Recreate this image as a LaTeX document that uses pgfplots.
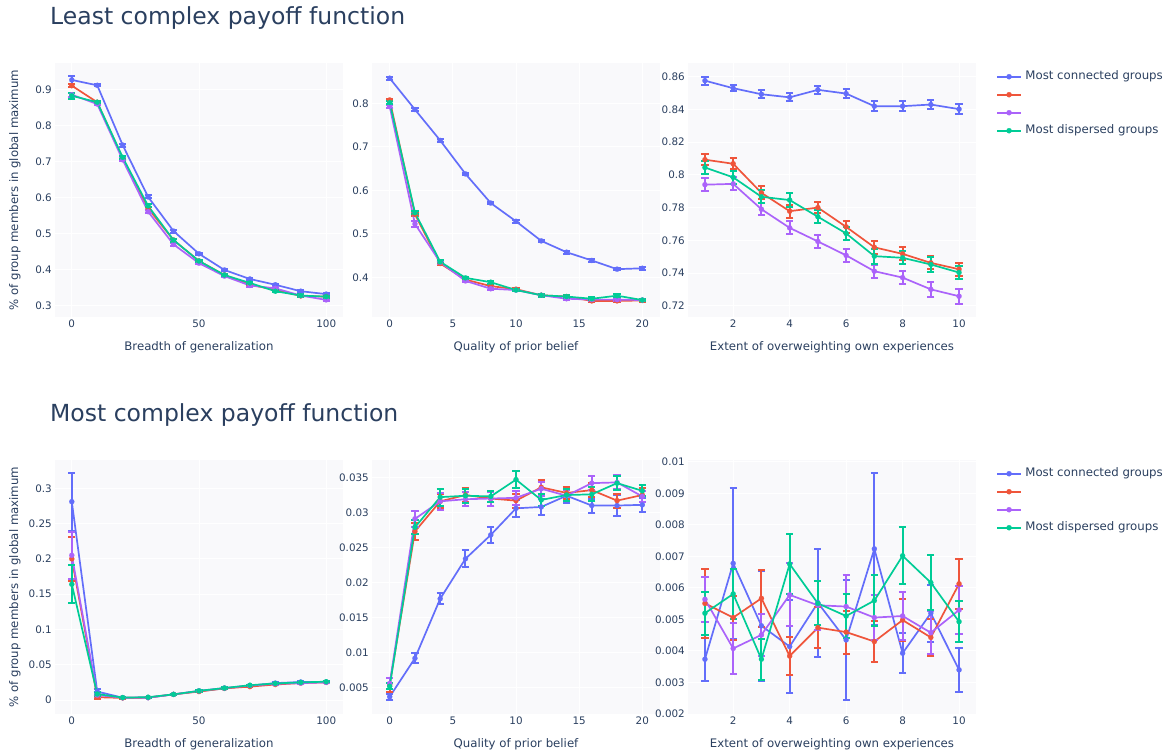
\documentclass[border=0pt]{standalone}
\usepackage{pgfplots}
\pgfplotsset{compat=1.18}
\usepackage{pgfplotstable}
\usepackage{fontspec}
\setmainfont{DejaVu Sans}
\definecolor{cb}{HTML}{636EFA}
\definecolor{cr}{HTML}{EF553B}
\definecolor{cp}{HTML}{AB63FA}
\definecolor{cg}{HTML}{00CC96}
\definecolor{txt}{HTML}{2A3F5F}
\definecolor{plotbg}{HTML}{F9F9FB}

% top-left: breadth of generalization (least complex)
\pgfplotstableread{
x b be r re p pe g ge
0 0.928 0.010 0.912 0.005 0.887 0.006 0.884 0.009
10 0.913 0.003 0.866 0.003 0.861 0.003 0.866 0.003
20 0.747 0.004 0.710 0.004 0.706 0.004 0.713 0.004
30 0.603 0.004 0.571 0.004 0.562 0.005 0.578 0.004
40 0.508 0.004 0.483 0.004 0.471 0.004 0.483 0.004
50 0.445 0.003 0.425 0.003 0.419 0.003 0.425 0.003
60 0.400 0.003 0.386 0.003 0.383 0.003 0.386 0.003
70 0.375 0.003 0.359 0.003 0.357 0.003 0.364 0.003
80 0.359 0.003 0.345 0.003 0.349 0.003 0.341 0.003
90 0.341 0.003 0.328 0.003 0.329 0.003 0.329 0.003
100 0.333 0.003 0.326 0.003 0.317 0.003 0.326 0.003
}\tA
% top-middle: quality of prior belief (least complex)
\pgfplotstableread{
x b be r re p pe g ge
0 0.858 0.003 0.808 0.003 0.793 0.004 0.802 0.003
2 0.786 0.003 0.545 0.004 0.523 0.006 0.549 0.004
4 0.715 0.003 0.432 0.003 0.435 0.003 0.436 0.003
6 0.638 0.003 0.395 0.003 0.392 0.003 0.399 0.003
8 0.571 0.003 0.380 0.003 0.374 0.003 0.389 0.003
10 0.529 0.003 0.373 0.003 0.371 0.003 0.371 0.003
12 0.484 0.003 0.359 0.003 0.359 0.003 0.359 0.003
14 0.458 0.003 0.356 0.003 0.351 0.003 0.356 0.003
16 0.439 0.003 0.346 0.003 0.349 0.003 0.351 0.003
18 0.419 0.003 0.346 0.003 0.349 0.003 0.358 0.003
20 0.421 0.003 0.347 0.003 0.348 0.003 0.348 0.003
}\tB
% top-right: overweighting own experiences (least complex)
\pgfplotstableread{
x b be r re p pe g ge
1 0.8576 0.0025 0.8093 0.0035 0.7940 0.0040 0.8045 0.0040
2 0.8530 0.0020 0.8068 0.0035 0.7945 0.0040 0.7985 0.0040
3 0.8493 0.0025 0.7890 0.0040 0.7790 0.0035 0.7866 0.0040
4 0.8474 0.0025 0.7778 0.0040 0.7676 0.0040 0.7846 0.0045
5 0.8520 0.0025 0.7800 0.0035 0.7593 0.0040 0.7744 0.0040
6 0.8497 0.0025 0.7682 0.0035 0.7508 0.0040 0.7642 0.0040
7 0.8420 0.0030 0.7557 0.0040 0.7411 0.0040 0.7503 0.0045
8 0.8420 0.0030 0.7517 0.0040 0.7372 0.0040 0.7493 0.0040
9 0.8430 0.0025 0.7462 0.0040 0.7300 0.0045 0.7452 0.0045
10 0.8402 0.0030 0.7423 0.0040 0.7258 0.0045 0.7403 0.0040
}\tC
% bottom-left
\pgfplotstableread{
x b be r re p pe g ge
0 0.281 0.041 0.200 0.031 0.205 0.033 0.164 0.027
10 0.012 0.004 0.004 0.002 0.007 0.003 0.0085 0.003
20 0.0033 0.001 0.003 0.001 0.0033 0.001 0.0035 0.001
30 0.0033 0.001 0.0035 0.001 0.0036 0.001 0.004 0.001
40 0.008 0.001 0.008 0.001 0.008 0.001 0.008 0.001
50 0.0125 0.001 0.012 0.001 0.013 0.001 0.013 0.001
60 0.0165 0.001 0.0165 0.001 0.017 0.001 0.017 0.001
70 0.0203 0.001 0.019 0.001 0.0205 0.001 0.021 0.001
80 0.024 0.001 0.022 0.001 0.023 0.001 0.0235 0.001
90 0.0255 0.001 0.024 0.001 0.024 0.001 0.025 0.001
100 0.0255 0.001 0.025 0.001 0.025 0.001 0.026 0.001
}\tD
% bottom-middle
\pgfplotstableread{
x b be r re p pe g ge
0 0.0037 0.0004 0.0054 0.0010 0.0056 0.0008 0.0052 0.0004
2 0.0092 0.0007 0.0273 0.0012 0.0291 0.0011 0.0279 0.0010
4 0.0177 0.0008 0.0316 0.0010 0.0316 0.0012 0.0322 0.0012
6 0.0234 0.0012 0.0325 0.0010 0.0319 0.0010 0.0324 0.0010
8 0.0268 0.0012 0.0320 0.0010 0.0320 0.0010 0.0323 0.0008
10 0.0306 0.0012 0.0317 0.0010 0.0321 0.0010 0.0347 0.0012
12 0.0308 0.0012 0.0336 0.0010 0.0334 0.0010 0.0318 0.0008
14 0.0324 0.0010 0.0328 0.0008 0.0324 0.0008 0.0325 0.0008
16 0.0310 0.0010 0.0332 0.0010 0.0342 0.0010 0.0326 0.0010
18 0.0310 0.0015 0.0317 0.0010 0.0343 0.0010 0.0342 0.0010
20 0.0311 0.0010 0.0325 0.0010 0.0323 0.0008 0.0331 0.0008
}\tE
% bottom-right
\pgfplotstableread{
x b be r re p pe g ge
1 0.00374 0.00068 0.00551 0.00110 0.00564 0.00072 0.00520 0.00068
2 0.00678 0.00240 0.00506 0.00070 0.00408 0.00080 0.00581 0.00080
3 0.00480 0.00175 0.00567 0.00090 0.00451 0.00067 0.00374 0.00065
4 0.00414 0.00148 0.00384 0.00060 0.00578 0.00100 0.00676 0.00095
5 0.00553 0.00172 0.00474 0.00066 0.00545 0.00077 0.00551 0.00070
6 0.00435 0.00190 0.00460 0.00068 0.00541 0.00100 0.00511 0.00070
7 0.00724 0.00242 0.00430 0.00066 0.00506 0.00072 0.00560 0.00080
8 0.00393 0.00063 0.00498 0.00066 0.00511 0.00075 0.00702 0.00090
9 0.00520 0.00090 0.00443 0.00060 0.00458 0.00068 0.00617 0.00088
10 0.00340 0.00070 0.00613 0.00080 0.00530 0.00075 0.00493 0.00065
}\tF

\pgfplotsset{
  panel/.style={
    scale only axis, width=288bp, height=254bp,
    scaled x ticks=false, scaled y ticks=false,
    axis background/.style={fill=plotbg},
    grid=major, major grid style={draw=white, line width=1bp},
    axis line style={draw=none},
    major tick length=0pt,
    ticklabel style={font=\fontsize{10.4}{12}\selectfont, text=txt},
    xticklabel style={anchor=north, inner sep=0pt, yshift=-3bp},
    yticklabel style={anchor=east, inner sep=0pt, xshift=-3bp},
    xlabel style={at={(axis description cs:0.5,-0.13)}, anchor=base, font=\fontsize{11.8}{14}\selectfont, text=txt},
    ylabel style={at={(axis description cs:-0.139,0.5)}, anchor=center, font=\fontsize{11.8}{14}\selectfont, text=txt},
    legend image code/.code={\draw[mark repeat=2,mark phase=2,##1] plot coordinates {(0bp,0bp) (12bp,0bp) (24bp,0bp)};},
  },
  leg/.style={
    legend style={at={(axis description cs:1,1)}, anchor=north west, xshift=20bp, yshift=-8bp,
      draw=none, fill=none, inner sep=0pt, row sep=7bp,
      font=\fontsize{11.8}{14}\selectfont, text=txt,
      nodes={inner xsep=3.5bp, inner ysep=0pt, text height=8.5bp, text depth=2.5bp}},
    legend cell align=left,
  },
  ser/.style={color=#1, line width=1.7bp, mark=*, mark size=2.6bp,
    mark options={solid, fill=#1, draw=#1, line width=0.1bp},
    error bars/y dir=both, error bars/y explicit,
    error bars/error bar style={line width=2bp, color=#1},
    error bars/error mark options={rotate=90, mark size=3.6bp, line width=2bp, color=#1}},
}

\begin{document}
\begin{tikzpicture}
\path[use as bounding box] (0,0) rectangle (1171bp,-753bp);
\node[anchor=base west, font=\fontsize{23.6}{28}\selectfont, text=txt, inner sep=0pt] at (50bp,-24bp) {Least complex payoff function};
\node[anchor=base west, font=\fontsize{23.6}{28}\selectfont, text=txt, inner sep=0pt] at (50bp,-421bp) {Most complex payoff function};

% ---------- top row ----------
\begin{axis}[panel, at={(55bp,-317bp)}, anchor=south west,
  xmin=-6.6, xmax=106.6, ymin=0.2694, ymax=0.975,
  xtick={0,50,100}, xticklabels={0,50,100},
  ytick={0.3,0.4,0.5,0.6,0.7,0.8,0.9}, yticklabels={0.3,0.4,0.5,0.6,0.7,0.8,0.9},
  xlabel={Breadth of generalization}, ylabel={\% of group members in global maximum}]
\addplot[ser=cb] table[x=x,y=b,y error=be]{\tA};
\addplot[ser=cr] table[x=x,y=r,y error=re]{\tA};
\addplot[ser=cp] table[x=x,y=p,y error=pe]{\tA};
\addplot[ser=cg] table[x=x,y=g,y error=ge]{\tA};
\end{axis}

\begin{axis}[panel, at={(372bp,-317bp)}, anchor=south west,
  xmin=-1.4, xmax=21.4, ymin=0.309, ymax=0.893,
  xtick={0,5,10,15,20}, xticklabels={0,5,10,15,20},
  ytick={0.4,0.5,0.6,0.7,0.8}, yticklabels={0.4,0.5,0.6,0.7,0.8},
  xlabel={Quality of prior belief}]
\addplot[ser=cb] table[x=x,y=b,y error=be]{\tB};
\addplot[ser=cr] table[x=x,y=r,y error=re]{\tB};
\addplot[ser=cp] table[x=x,y=p,y error=pe]{\tB};
\addplot[ser=cg] table[x=x,y=g,y error=ge]{\tB};
\end{axis}

\begin{axis}[panel, leg, at={(688bp,-317bp)}, anchor=south west,
  xmin=0.4, xmax=10.6, ymin=0.7131, ymax=0.8684,
  xtick={2,4,6,8,10}, xticklabels={2,4,6,8,10},
  ytick={0.72,0.74,0.76,0.78,0.8,0.82,0.84,0.86}, yticklabels={0.72,0.74,0.76,0.78,0.8,0.82,0.84,0.86},
  xlabel={Extent of overweighting own experiences}]
\addplot[ser=cb] table[x=x,y=b,y error=be]{\tC};
\addlegendentry{Most connected groups}
\addplot[ser=cr] table[x=x,y=r,y error=re]{\tC};
\addlegendentry{\mbox{}}
\addplot[ser=cp] table[x=x,y=p,y error=pe]{\tC};
\addlegendentry{\mbox{}}
\addplot[ser=cg] table[x=x,y=g,y error=ge]{\tC};
\addlegendentry{Most dispersed groups}
\end{axis}

% ---------- bottom row ----------
\begin{axis}[panel, at={(55bp,-714bp)}, anchor=south west,
  xmin=-6.6, xmax=106.6, ymin=-0.0198, ymax=0.340,
  xtick={0,50,100}, xticklabels={0,50,100},
  ytick={0,0.05,0.1,0.15,0.2,0.25,0.3}, yticklabels={0,0.05,0.1,0.15,0.2,0.25,0.3},
  xlabel={Breadth of generalization}, ylabel={\% of group members in global maximum}]
\addplot[ser=cb] table[x=x,y=b,y error=be]{\tD};
\addplot[ser=cr] table[x=x,y=r,y error=re]{\tD};
\addplot[ser=cp] table[x=x,y=p,y error=pe]{\tD};
\addplot[ser=cg] table[x=x,y=g,y error=ge]{\tD};
\end{axis}

\begin{axis}[panel, at={(372bp,-714bp)}, anchor=south west,
  xmin=-1.4, xmax=21.4, ymin=0.00124, ymax=0.0375,
  xtick={0,5,10,15,20}, xticklabels={0,5,10,15,20},
  ytick={0.005,0.01,0.015,0.02,0.025,0.03,0.035}, yticklabels={0.005,0.01,0.015,0.02,0.025,0.03,0.035},
  xlabel={Quality of prior belief}]
\addplot[ser=cb] table[x=x,y=b,y error=be]{\tE};
\addplot[ser=cr] table[x=x,y=r,y error=re]{\tE};
\addplot[ser=cp] table[x=x,y=p,y error=pe]{\tE};
\addplot[ser=cg] table[x=x,y=g,y error=ge]{\tE};
\end{axis}

\begin{axis}[panel, leg, at={(688bp,-714bp)}, anchor=south west,
  xmin=0.4, xmax=10.6, ymin=0.002, ymax=0.01006,
  xtick={2,4,6,8,10}, xticklabels={2,4,6,8,10},
  ytick={0.002,0.003,0.004,0.005,0.006,0.007,0.008,0.009,0.01}, yticklabels={0.002,0.003,0.004,0.005,0.006,0.007,0.008,0.009,0.01},
  xlabel={Extent of overweighting own experiences}]
\addplot[ser=cb] table[x=x,y=b,y error=be]{\tF};
\addlegendentry{Most connected groups}
\addplot[ser=cr] table[x=x,y=r,y error=re]{\tF};
\addlegendentry{\mbox{}}
\addplot[ser=cp] table[x=x,y=p,y error=pe]{\tF};
\addlegendentry{\mbox{}}
\addplot[ser=cg] table[x=x,y=g,y error=ge]{\tF};
\addlegendentry{Most dispersed groups}
\end{axis}
\end{tikzpicture}
\end{document}
